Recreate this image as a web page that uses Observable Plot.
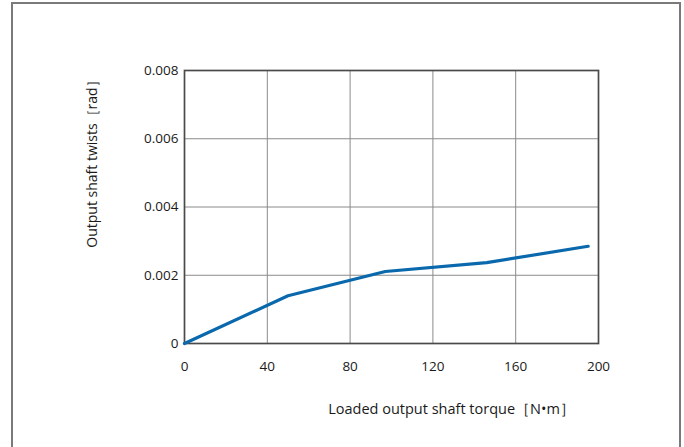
<!DOCTYPE html>
<html>
<head>
<meta charset="utf-8">
<script src="https://cdn.jsdelivr.net/npm/d3@7"></script>
<script src="https://cdn.jsdelivr.net/npm/@observablehq/plot@0.6"></script>
<style>
  html, body { margin: 0; padding: 0; background: #fff; }
  #wrap { position: relative; width: 684px; height: 447px; overflow: hidden; }
  #border { position: absolute; left: 11px; top: 2px; width: 670px; height: 460px; border: 2px solid #7a7a7a; box-sizing: border-box; }
  #chart { position: absolute; left: 0; top: 0; }
</style>
</head>
<body>
<div id="wrap"><div id="border"></div><div id="chart"></div></div>
<script>
const torque = [0, 50, 97, 146, 195];
const twist = [0, 0.0014, 0.00211, 0.00237, 0.00285];
const xTicks = [0, 40, 80, 120, 160, 200];
const yTicks = [0, 0.002, 0.004, 0.006, 0.008];
const xLabel = "Loaded output shaft torque［N•m］";
const yLabel = "Output shaft twists［rad］";

const data = torque.map((t, i) => ({torque: t, twist: twist[i]}));

const chart = Plot.plot({
  width: 684,
  height: 447,
  marginLeft: 184,
  marginRight: 86,
  marginTop: 70,
  marginBottom: 104,
  style: {fontFamily: "'Open Sans', sans-serif", fontSize: "13.5px", color: "#1a1a1a", background: "transparent"},
  x: {domain: [0, 200], ticks: xTicks, label: null},
  y: {domain: [0, 0.008], ticks: yTicks, label: null},
  marks: [
    Plot.gridX(xTicks, {stroke: "#8a8a8a", strokeOpacity: 1, strokeWidth: 1}),
    Plot.gridY(yTicks, {stroke: "#8a8a8a", strokeOpacity: 1, strokeWidth: 1}),
    Plot.frame({stroke: "#4a4a4a", strokeWidth: 1.7}),
    Plot.axisX(xTicks, {tickSize: 0, tickPadding: 18, label: null, fontSize: 13.5, tickFormat: d => String(d)}),
    Plot.axisY(yTicks, {tickSize: 0, tickPadding: 6, label: null, fontSize: 13.5, tickFormat: d => d === 0 ? "0" : d.toFixed(3)}),
    Plot.line(data, {x: "torque", y: "twist", stroke: "#0a68ad", strokeWidth: 3.2}),
    Plot.text([xLabel], {frameAnchor: "bottom", text: d => d, dx: 60, dy: 70, fontSize: 14.5, fill: "#1a1a1a"}),
    Plot.text([yLabel], {frameAnchor: "top-left", text: d => d, rotate: -90, textAnchor: "middle", dx: -97, dy: 90, fontSize: 14, fill: "#1a1a1a"})
  ]
});
document.getElementById("chart").appendChild(chart);
</script>
</body>
</html>
